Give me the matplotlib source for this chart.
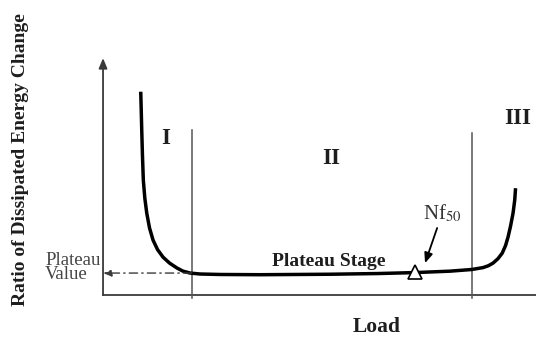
import matplotlib
matplotlib.use("Agg")
import matplotlib.pyplot as plt

plt.rcParams["font.family"] = ["Liberation Serif", "DejaVu Serif"]
plt.rcParams["mathtext.fontset"] = "stix"

# ------------------------------------------------------------
# data (load and ratio in arbitrary units)
# ------------------------------------------------------------
load = [9.04, 9.16, 9.28, 9.45, 9.66, 10.02, 10.48, 11.15, 11.99, 13.07,
        14.39, 15.95, 17.75, 19.18, 20.86, 23.26, 28.06, 37.65, 54.4, 66.0,
        74.8, 83.2, 88.4, 91.1, 92.4, 93.5, 94.7, 95.7, 96.5, 97.1,
        97.7, 98.3, 98.7, 98.9]
ratio = [85.8, 78.0, 69.6, 59.1, 48.5, 40.9, 34.6, 28.3, 23.2, 19.2,
         16.0, 13.5, 11.4, 10.1, 9.3, 8.9, 8.7, 8.6, 8.8, 9.1,
         9.5, 10.1, 10.8, 11.6, 12.4, 13.5, 15.4, 17.7, 20.9, 24.5,
         29.1, 34.6, 40.1, 45.1]

stage_bounds = [21.27, 88.4]          # I|II and II|III boundaries
stage_labels = ["I", "II", "III"]
stage_label_x = [14.9, 54.7, 99.3]
stage_label_y = [66.2, 57.8, 74.7]

plateau_value = 9.3
nf50_load, nf50_ratio = 74.8, 9.7

# ------------------------------------------------------------
# figure
# ------------------------------------------------------------
fig = plt.figure(figsize=(5.36, 3.38), dpi=100)
ax = fig.add_axes([0, 0, 1, 1])
ax.set_xlim(-24.7, 103.8)
ax.set_ylim(-18.1, 124.5)
ax.axis("off")

axis_col = "#3a3a3a"
txt_col = "#1e1e1e"

# axes with arrow on the ratio axis
ax.plot([0, 103.8], [0, 0], color=axis_col, lw=1.3)
ax.annotate("", xy=(0, 100), xytext=(0, 0),
            arrowprops=dict(arrowstyle="-|>,head_length=0.6,head_width=0.25",
                            color=axis_col, lw=1.3, shrinkA=0, shrinkB=0))

# stage boundaries
for xb, ytop in zip(stage_bounds, [69.6, 68.4]):
    ax.plot([xb, xb], [-1.3, ytop], color="#555555", lw=1.1)

for lab, lx, ly in zip(stage_labels, stage_label_x, stage_label_y):
    ax.text(lx, ly, lab, fontsize=16.5, fontweight="bold", color=txt_col,
            ha="center", va="center")

# main curve
ax.plot(load, ratio, color="black", lw=2.5, solid_joinstyle="round",
        solid_capstyle="butt", zorder=3)

# Nf50 marker
ax.plot([nf50_load], [nf50_ratio], marker="^", ms=10, mfc="white",
        mec="black", mew=1.2, zorder=4)
ax.annotate("", xy=(77.2, 13.5), xytext=(80.1, 28.3),
            arrowprops=dict(arrowstyle="-|>,head_length=0.6,head_width=0.25",
                            color="black", lw=1.3, shrinkA=0, shrinkB=0))
ax.text(76.7, 34.6, r"Nf$_{50}$", fontsize=15, color="#333333",
        ha="left", va="center")

# plateau value reference
ax.annotate("", xy=(0, plateau_value), xytext=(stage_bounds[0], plateau_value),
            arrowprops=dict(arrowstyle="-|>,head_length=0.5,head_width=0.2",
                            color=axis_col, lw=1.0, linestyle=(0, (6, 3, 1, 3)),
                            shrinkA=0, shrinkB=0))
ax.text(-13.9, 11.6, "Plateau\nValue", fontsize=13.5, color="#444444",
        ha="left", va="center", linespacing=0.75)

ax.text(54.0, 14.3, "Plateau Stage", fontsize=14, fontweight="bold",
        color=txt_col, ha="center", va="center")

# axis titles
ax.text(65.5, -13.6, "Load", fontsize=15.5, fontweight="bold", color=txt_col,
        ha="center", va="center")
ax.text(-19.9, 57.0, "Ratio of Dissipated Energy Change", fontsize=14,
        fontweight="bold", color=txt_col, rotation=90, ha="center", va="center")

fig.savefig("out.png", dpi=100)
